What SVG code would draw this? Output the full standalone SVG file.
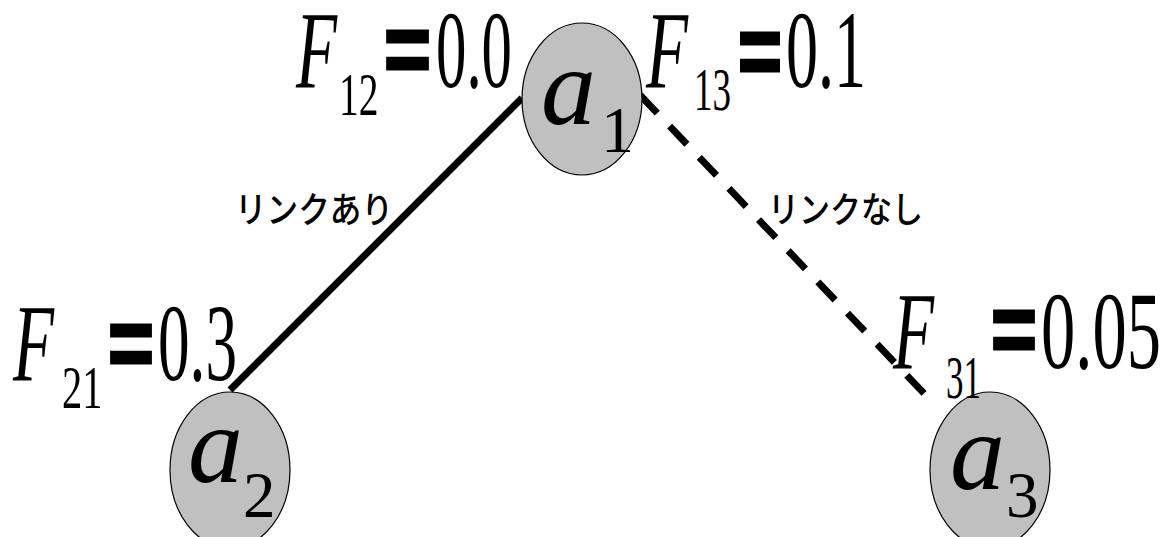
<svg xmlns="http://www.w3.org/2000/svg" width="1167" height="537" viewBox="0 0 1167 537">
<style>
.node ellipse{fill:#c0c0c0;stroke:#000;stroke-width:1.2}
.it{font-family:'Liberation Serif','Times New Roman',serif;font-style:italic;fill:#000}
.num{font-family:'Liberation Serif','Times New Roman',serif;fill:#000}
.eq{font-family:'Liberation Sans',Arial,sans-serif;font-weight:bold;font-size:100px;fill:#000;stroke:#000;stroke-width:3}
.jp{font-family:'Noto Sans CJK JP','Noto Sans',sans-serif;font-size:36px;font-weight:500;fill:#000}
.edge{fill:none;stroke:#000;stroke-width:7}
</style>
<rect width="1167" height="537" fill="#fff"/>
<g id="connectors">
<path class="edge" d="M230,390 L522,98"/>
<path class="edge" d="M640,95 L935,405" stroke-dasharray="25 18"/>
</g>
<g id="node-a1" class="node">
<ellipse cx="582" cy="99" rx="60" ry="76"/>
<text class="it" x="541" y="124" font-size="110">a</text>
<text class="num" x="601" y="152" font-size="66">1</text>
</g>
<g id="node-a2" class="node">
<ellipse cx="230" cy="470" rx="60" ry="78"/>
<text class="it" x="188" y="482" font-size="110">a</text>
<text class="num" x="243" y="517" font-size="65">2</text>
</g>
<g id="node-a3" class="node">
<ellipse cx="990" cy="470" rx="60" ry="78"/>
<text class="it" x="950" y="489" font-size="110">a</text>
<text class="num" x="1006" y="517" font-size="65">3</text>
</g>
<g id="label-F12">
<text class="it" x="296" y="87" font-size="110" textLength="41" lengthAdjust="spacingAndGlyphs">F</text>
<text class="num" x="339" y="115" font-size="62" textLength="39.5" lengthAdjust="spacingAndGlyphs">12</text>
<text class="eq" x="384" y="83" textLength="47" lengthAdjust="spacingAndGlyphs">=</text>
<text class="num" x="436" y="87" font-size="110" textLength="76" lengthAdjust="spacingAndGlyphs">0.0</text>
</g>
<g id="label-F13">
<text class="it" x="646" y="87" font-size="110" textLength="42" lengthAdjust="spacingAndGlyphs">F</text>
<text class="num" x="694" y="110" font-size="62" textLength="37" lengthAdjust="spacingAndGlyphs">13</text>
<text class="eq" x="738" y="85" textLength="44" lengthAdjust="spacingAndGlyphs">=</text>
<text class="num" x="786" y="87" font-size="110" textLength="80" lengthAdjust="spacingAndGlyphs">0.1</text>
</g>
<g id="label-F21">
<text class="it" x="13" y="380" font-size="110" textLength="41" lengthAdjust="spacingAndGlyphs">F</text>
<text class="num" x="62" y="408" font-size="62" textLength="40.5" lengthAdjust="spacingAndGlyphs">21</text>
<text class="eq" x="108" y="377" textLength="46" lengthAdjust="spacingAndGlyphs">=</text>
<text class="num" x="158" y="380" font-size="110" textLength="79" lengthAdjust="spacingAndGlyphs">0.3</text>
</g>
<g id="label-F31">
<text class="it" x="893" y="368" font-size="110" textLength="41" lengthAdjust="spacingAndGlyphs">F</text>
<text class="num" x="946" y="398" font-size="62" textLength="35" lengthAdjust="spacingAndGlyphs">31</text>
<text class="eq" x="991" y="363" textLength="46" lengthAdjust="spacingAndGlyphs">=</text>
<text class="num" x="1041" y="368" font-size="110" textLength="120" lengthAdjust="spacingAndGlyphs">0.05</text>
</g>
<g id="edge-labels">
<text class="jp" x="235" y="223" textLength="158" lengthAdjust="spacingAndGlyphs">リンクあり</text>
<text class="jp" x="768" y="223" textLength="155" lengthAdjust="spacingAndGlyphs">リンクなし</text>
</g>
</svg>
